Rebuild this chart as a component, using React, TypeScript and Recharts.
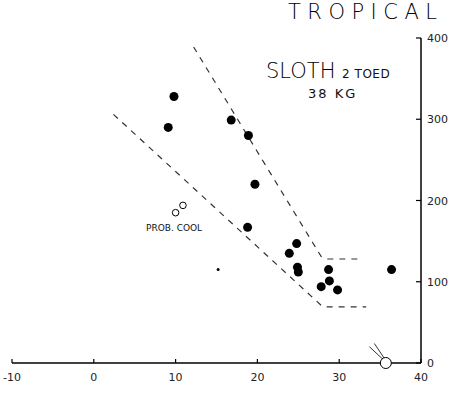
import { ScatterChart, Scatter, XAxis, YAxis } from 'recharts';

const xTicks = [-10, 0, 10, 20, 30, 40];
const yTicks = [0, 100, 200, 300, 400];

// filled = observed points
const filled = [
  { x: 9.8, y: 328 }, { x: 9.1, y: 290 }, { x: 16.8, y: 299 }, { x: 18.9, y: 280 },
  { x: 19.7, y: 220 }, { x: 18.8, y: 167 }, { x: 24.8, y: 147 }, { x: 23.9, y: 135 },
  { x: 24.9, y: 118 }, { x: 25.0, y: 112 }, { x: 28.7, y: 115 }, { x: 28.8, y: 101 },
  { x: 27.8, y: 94 }, { x: 29.8, y: 90 }, { x: 36.4, y: 115 },
];
const smudge = [{ x: 15.2, y: 115 }];
const probCool = [{ x: 10.0, y: 185 }, { x: 10.9, y: 194 }];
const bodyTemp = [{ x: 35.7, y: 0 }];
const twigA = [{ x: 33.7, y: 20 }, { x: 35.4, y: 4 }];
const twigB = [{ x: 34.3, y: 24 }, { x: 35.5, y: 6 }];
const upperBound = [{ x: 12.2, y: 389 }, { x: 27.8, y: 131 }, { x: 28.6, y: 128 }, { x: 32.7, y: 128 }];
const lowerBound = [{ x: 2.4, y: 306 }, { x: 27.9, y: 70 }, { x: 28.6, y: 69 }, { x: 33.3, y: 69 }];

const ink = '#000';
const font = '"DejaVu Sans", sans-serif';

const XTick = ({ x, y, payload }: any) => (
  <g>
    <line x1={x} y1={y} x2={x} y2={y - 4} stroke={ink} strokeWidth={1.2} />
    <text x={x} y={y + 18} textAnchor="middle" fontSize={11} fontFamily={font} fill="#222">
      {payload.value}
    </text>
  </g>
);

const YTick = ({ x, y, payload }: any) => (
  <g>
    <line x1={x} y1={y} x2={x - 5} y2={y} stroke={ink} strokeWidth={1.2} />
    <text x={x + 6} y={y + 4} textAnchor="start" fontSize={11} fontFamily={font} fill="#222">
      {payload.value}
    </text>
  </g>
);

const none = () => <g />;
const dot = (r: number) => (p: any) => <circle cx={p.cx} cy={p.cy} r={r} fill={ink} />;
const ring = (r: number) => (p: any) => <circle cx={p.cx} cy={p.cy} r={r} fill="#fff" stroke={ink} strokeWidth={1} />;

export default function App() {
  return (
    <div style={{ position: 'absolute', left: 0, top: 0, width: 455, height: 393, background: '#fff', overflow: 'hidden', fontFamily: font }}>
      <ScatterChart width={455} height={393} margin={{ top: 38, right: 0, bottom: 0, left: 12 }}>
        <XAxis
          type="number"
          dataKey="x"
          domain={[-10, 40]}
          ticks={xTicks}
          height={30}
          axisLine={{ stroke: ink, strokeWidth: 1.5 }}
          tickLine={false}
          tickSize={0}
          tickMargin={0}
          tick={<XTick />}
          interval={0}
        />
        <YAxis
          type="number"
          dataKey="y"
          orientation="right"
          domain={[0, 400]}
          ticks={yTicks}
          width={34}
          axisLine={{ stroke: ink, strokeWidth: 1.5 }}
          tickLine={false}
          tickSize={0}
          tickMargin={0}
          tick={<YTick />}
          interval={0}
        />
        <Scatter data={upperBound} line={{ stroke: '#333', strokeWidth: 1.2, strokeDasharray: '6 6' }} shape={none} isAnimationActive={false} />
        <Scatter data={lowerBound} line={{ stroke: '#333', strokeWidth: 1.2, strokeDasharray: '6 6' }} shape={none} isAnimationActive={false} />
        <Scatter data={twigA} line={{ stroke: '#333', strokeWidth: 1 }} shape={none} isAnimationActive={false} />
        <Scatter data={twigB} line={{ stroke: '#333', strokeWidth: 1 }} shape={none} isAnimationActive={false} />
        <Scatter data={filled} shape={dot(4.5)} isAnimationActive={false} />
        <Scatter data={smudge} shape={dot(1.5)} isAnimationActive={false} />
        <Scatter data={probCool} shape={ring(3.3)} isAnimationActive={false} />
        <Scatter data={bodyTemp} shape={ring(5.5)} isAnimationActive={false} />
      </ScatterChart>
      <div style={{ position: 'absolute', left: 288, top: 0, fontSize: 21, lineHeight: 'normal', fontWeight: 200, letterSpacing: 6.5, color: ink, whiteSpace: 'nowrap' }}>
        TROPICAL
      </div>
      <div style={{ position: 'absolute', left: 266, top: 59, fontSize: 21, fontWeight: 200, color: ink, whiteSpace: 'nowrap' }}>
        SLOTH <span style={{ fontSize: 12, fontWeight: 400, letterSpacing: 0.5, color: '#111' }}>2 TOED</span>
      </div>
      <div style={{ position: 'absolute', left: 308, top: 86, fontSize: 13, letterSpacing: 2, color: '#111', whiteSpace: 'nowrap' }}>
        38 KG
      </div>
      <div style={{ position: 'absolute', left: 146, top: 223, fontSize: 9, color: '#111', whiteSpace: 'nowrap' }}>
        PROB. COOL
      </div>
    </div>
  );
}
